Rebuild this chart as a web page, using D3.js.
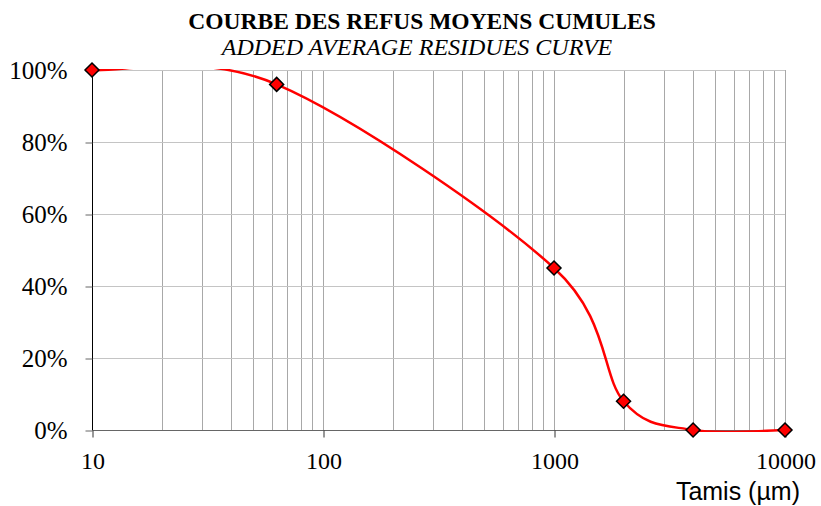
<!DOCTYPE html>
<html>
<head>
<meta charset="utf-8">
<script src="https://cdn.jsdelivr.net/npm/d3@7"></script>
<style>
  body { margin: 0; background: #fff; }
  svg { display: block; }
</style>
</head>
<body>
<svg id="chart" width="821" height="506"></svg>
<script>
// sieve sizes (µm) and cumulative residue
var sieves = [10, 63, 1000, 2000, 4000, 10000];
var residues = [1.00, 0.96, 0.45, 0.08, 0.00, 0.00];
var yTicks = [0, 0.2, 0.4, 0.6, 0.8, 1.0];
var xTicks = [10, 100, 1000, 10000];

var svg = d3.select("#chart");
var plotLeft = 92, plotRight = 785, plotTop = 70, plotBottom = 430;

var x = d3.scaleLog().domain([10, 10000]).range([plotLeft, plotRight]);
var y = d3.scaleLinear().domain([0, 1]).range([plotBottom, plotTop]);

// excel clips the series a hair outside the plot area
svg.append("defs").append("clipPath").attr("id", "plot")
  .append("rect")
    .attr("x", plotLeft - 8).attr("y", plotTop - 1)
    .attr("width", plotRight - plotLeft + 16).attr("height", plotBottom - plotTop + 3);

// minor + major vertical grid
var vgrid = [];
[10, 100, 1000].forEach(function(d) {
  for (var k = 1; k <= 9; k++) vgrid.push(k * d);
});
vgrid.push(10000);
svg.append("g").selectAll("line")
  .data(vgrid.filter(function(v) { return v > 10; }))
  .enter().append("line")
    .attr("x1", function(d) { return Math.round(x(d)) + 0.5; })
    .attr("x2", function(d) { return Math.round(x(d)) + 0.5; })
    .attr("y1", plotTop).attr("y2", plotBottom)
    .attr("stroke", "#a8a8a8").attr("stroke-width", 1);

svg.append("g").selectAll("line")
  .data(yTicks.filter(function(v) { return v > 0; }))
  .enter().append("line")
    .attr("x1", plotLeft).attr("x2", plotRight)
    .attr("y1", function(d) { return Math.round(y(d)) + 0.5; })
    .attr("y2", function(d) { return Math.round(y(d)) + 0.5; })
    .attr("stroke", "#c4c4c4").attr("stroke-width", 1);

// axes
var yAxis = svg.append("g")
  .attr("transform", "translate(" + (plotLeft + 0.5) + ",0.5)")
  .call(d3.axisLeft(y).tickValues(yTicks).tickSize(7).tickPadding(18)
    .tickFormat(function(d) { return Math.round(d * 100) + "%"; }));
yAxis.select(".domain").attr("stroke", "#000").attr("d", "M0," + plotTop + "V" + plotBottom);
yAxis.selectAll(".tick line").attr("stroke", "#666");
yAxis.selectAll("text")
  .attr("font-family", "'Liberation Serif', 'Times New Roman', serif")
  .attr("font-size", 25).attr("fill", "#000").attr("dy", "0.33em");

var xAxis = svg.append("g")
  .attr("transform", "translate(0.5," + (plotBottom + 0.5) + ")")
  .call(d3.axisBottom(x).tickValues(xTicks).tickSize(7).tickPadding(14)
    .tickFormat(d3.format("d")));
xAxis.select(".domain").attr("stroke", "#666").attr("d", "M" + plotLeft + ",0H" + plotRight);
xAxis.selectAll(".tick line").attr("stroke", "#333");
xAxis.selectAll("text")
  .attr("font-family", "'Liberation Serif', 'Times New Roman', serif")
  .attr("font-size", 24).attr("fill", "#000");

// Excel-like smoothed line (bezier through points)
function excelSmooth(pts) {
  var p = d3.path();
  function dist(a, b) { return Math.hypot(b[0] - a[0], b[1] - a[1]); }
  p.moveTo(pts[0][0], pts[0][1]);
  for (var i = 0; i < pts.length - 1; i++) {
    var p0 = pts[Math.max(i - 1, 0)], p1 = pts[i], p2 = pts[i + 1],
        p3 = pts[Math.min(i + 2, pts.length - 1)];
    var d02 = dist(p0, p2), d12 = dist(p1, p2), d13 = dist(p1, p3);
    var f1, f2;
    var a = d02 / 6 < d12 / 2, b = d13 / 6 < d12 / 2;
    if (a && b) { f1 = 1 / 6; f2 = 1 / 6; }
    else if (!a && !b) { f1 = d12 / 2 / d02; f2 = d12 / 2 / d13; }
    else if (!a) { f1 = d12 / 2 / d02; f2 = d12 / 2 / d02; }
    else { f1 = d12 / 2 / d13; f2 = d12 / 2 / d13; }
    var c1 = [p1[0] + (p2[0] - p0[0]) * f1, p1[1] + (p2[1] - p0[1]) * f1];
    var c2 = [p2[0] - (p3[0] - p1[0]) * f2, p2[1] - (p3[1] - p1[1]) * f2];
    p.bezierCurveTo(c1[0], c1[1], c2[0], c2[1], p2[0], p2[1]);
  }
  return p.toString();
}

var pts = sieves.map(function(s, i) { return [x(s), y(residues[i])]; });

svg.append("path")
  .attr("clip-path", "url(#plot)")
  .attr("d", excelSmooth(pts))
  .attr("fill", "none")
  .attr("stroke", "#ff0000")
  .attr("stroke-width", 2.5);

svg.append("g").selectAll("path")
  .data(pts)
  .enter().append("path")
    .attr("transform", function(d) { return "translate(" + d[0] + "," + d[1] + ")"; })
    .attr("d", "M0,-7L7,0L0,7L-7,0Z")
    .attr("fill", "#ff0000")
    .attr("stroke", "#000")
    .attr("stroke-width", 1.5);

// titles
svg.append("text")
  .attr("x", 422).attr("y", 29)
  .attr("text-anchor", "middle")
  .attr("font-family", "'Liberation Serif', 'Times New Roman', serif")
  .attr("font-weight", "bold").attr("font-size", 23.5)
  .text("COURBE DES REFUS MOYENS CUMULES");
svg.append("text")
  .attr("x", 417).attr("y", 55)
  .attr("text-anchor", "middle")
  .attr("font-family", "'Liberation Serif', 'Times New Roman', serif")
  .attr("font-style", "italic").attr("font-size", 24)
  .text("ADDED AVERAGE RESIDUES CURVE");

svg.append("text")
  .attr("x", 800).attr("y", 500)
  .attr("text-anchor", "end")
  .attr("font-family", "'Liberation Sans', Arial, sans-serif")
  .attr("font-size", 25)
  .text("Tamis (µm)");
</script>
</body>
</html>
